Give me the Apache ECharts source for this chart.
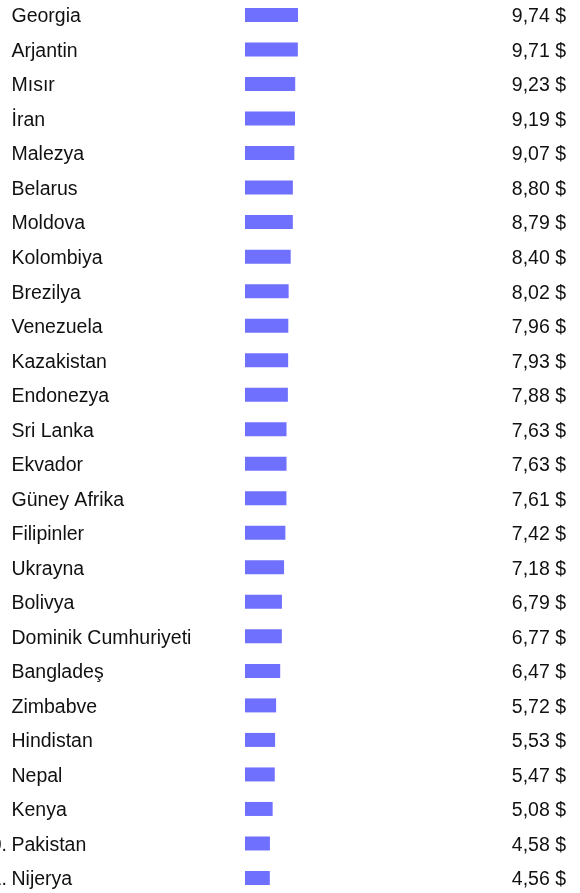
<!DOCTYPE html>
<html>
<head>
<meta charset="utf-8">
<script src="https://cdn.jsdelivr.net/npm/echarts@6/dist/echarts.min.js"></script>
<style>
html,body{margin:0;padding:0;background:#fff;}
#chart{width:580px;height:893px;}
</style>
</head>
<body>
<div id="chart"></div>
<script>
const countries = ["Georgia","Arjantin","Mısır","İran","Malezya","Belarus","Moldova","Kolombiya","Brezilya","Venezuela","Kazakistan","Endonezya","Sri Lanka","Ekvador","Güney Afrika","Filipinler","Ukrayna","Bolivya","Dominik Cumhuriyeti","Bangladeş","Zimbabve","Hindistan","Nepal","Kenya","Pakistan","Nijerya"];
const ranks = [76,77,78,79,80,81,82,83,84,85,86,87,88,89,90,91,92,93,94,95,96,97,98,99,100,101];
const prices = [9.74,9.71,9.23,9.19,9.07,8.80,8.79,8.40,8.02,7.96,7.93,7.88,7.63,7.63,7.61,7.42,7.18,6.79,6.77,6.47,5.72,5.53,5.47,5.08,4.58,4.56];
const valueLabels = prices.map(v => v.toFixed(2).replace('.', ',') + ' $');

const FONT = 'Arial, "Liberation Sans", sans-serif';
const FS = 19.5;
const chart = echarts.init(document.getElementById('chart'), null, {renderer:'canvas'});
chart.setOption({
  animation: false,
  backgroundColor: '#ffffff',
  grid: {left: 245, right: 14, top: -2.26, bottom: -2.26, containLabel: false, outerBoundsMode: 'none'},
  xAxis: {type: 'value', min: 0, max: 59, show: false},
  yAxis: [
    {
      type: 'category', inverse: true, data: countries,
      axisLine: {show: false}, axisTick: {show: false}, splitLine: {show: false},
      axisLabel: {
        margin: 276, align: 'left', color: '#111', fontSize: FS, fontFamily: FONT,
        padding: [4, 0, 0, 0],
        formatter: (name, i) => '{r|' + ranks[i] + '.}{n|' + name + '}',
        rich: {
          r: {width: 42.5, align: 'left', fontSize: FS, fontFamily: FONT, color: '#111'},
          n: {fontSize: FS, fontFamily: FONT, color: '#111'}
        }
      }
    },
    {
      type: 'category', inverse: true, position: 'right', data: valueLabels,
      axisLine: {show: false}, axisTick: {show: false}, splitLine: {show: false},
      axisLabel: {
        inside: true, margin: 0, color: '#111', fontSize: FS, fontFamily: FONT,
        padding: [4, 0, 0, 0],
        formatter: v => '{v|' + v + '}',
        rich: {v: {fontSize: FS, fontFamily: FONT, color: '#111'}}
      }
    }
  ],
  series: [{
    type: 'bar', data: prices, yAxisIndex: 0, barWidth: 14,
    itemStyle: {color: '#7070ff'}
  }]
});
</script>
</body>
</html>
